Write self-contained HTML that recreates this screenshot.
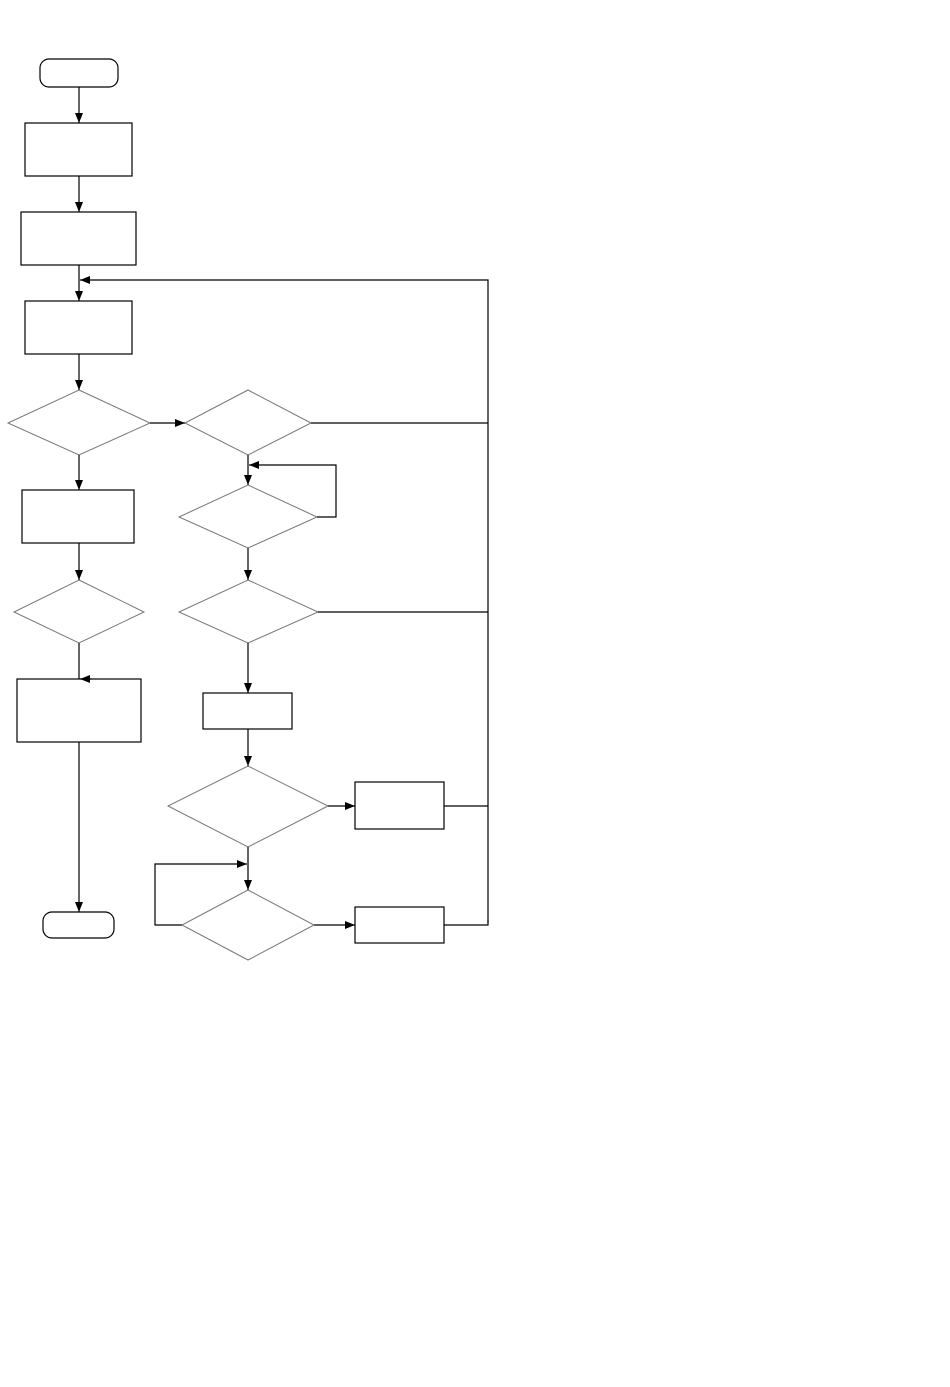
<!DOCTYPE html>
<html><head><meta charset="utf-8"><style>html,body{margin:0;padding:0;background:#fff;}svg{display:block}</style></head>
<body>
<svg width="950" height="1387" viewBox="0 0 950 1387" xmlns="http://www.w3.org/2000/svg">
<defs><marker id="a" markerWidth="10" markerHeight="8" refX="10" refY="4" orient="auto" markerUnits="userSpaceOnUse"><path d="M0,0L10,4L0,8z" fill="#000"/></marker></defs>
<g fill="none" stroke="#000" stroke-width="1.2">
<rect x="40" y="59" width="78" height="28" rx="9"/>
<rect x="25" y="123" width="107" height="53"/>
<rect x="21" y="212" width="115" height="53"/>
<rect x="25" y="301" width="107" height="53"/>
<rect x="22" y="490" width="112" height="53"/>
<rect x="17" y="679" width="124" height="63"/>
<rect x="43" y="912" width="71" height="26" rx="9"/>
<rect x="203" y="693" width="89" height="36"/>
<rect x="355" y="782" width="89" height="47"/>
<rect x="355" y="907" width="89" height="36"/>
</g>
<g fill="none" stroke="#777" stroke-width="1">
<polygon points="79,390 150,423 79,455 8,423"/>
<polygon points="248,390 311,423 248,455 185,423"/>
<polygon points="79,580 144,612 79,643 14,612"/>
<polygon points="248,485 317,517 248,548 179,517"/>
<polygon points="248,580 318,612 248,643 179,612"/>
<polygon points="248,766 328,806 248,847 168,806"/>
<polygon points="248,890 314,925 248,960 182,925"/>
</g>
<g fill="none" stroke="#000" stroke-width="1.2">
<line x1="79" y1="87" x2="79" y2="123" marker-end="url(#a)"/>
<line x1="79" y1="176" x2="79" y2="212" marker-end="url(#a)"/>
<line x1="79" y1="265" x2="79" y2="301" marker-end="url(#a)"/>
<polyline points="488,923 488,280 80,280" marker-end="url(#a)"/>
<line x1="79" y1="354" x2="79" y2="390" marker-end="url(#a)"/>
<line x1="150" y1="423" x2="185" y2="423" marker-end="url(#a)"/>
<line x1="311" y1="423" x2="488" y2="423"/>
<line x1="79" y1="455" x2="79" y2="490" marker-end="url(#a)"/>
<line x1="79" y1="543" x2="79" y2="580" marker-end="url(#a)"/>
<line x1="79" y1="643" x2="79" y2="679"/>
<line x1="92" y1="679" x2="80" y2="679" marker-end="url(#a)"/>
<line x1="79" y1="742" x2="79" y2="912" marker-end="url(#a)"/>
<line x1="248" y1="455" x2="248" y2="485" marker-end="url(#a)"/>
<polyline points="317,517 336,517 336,465 249,465" marker-end="url(#a)"/>
<line x1="248" y1="548" x2="248" y2="580" marker-end="url(#a)"/>
<line x1="318" y1="612" x2="488" y2="612"/>
<line x1="248" y1="643" x2="248" y2="693" marker-end="url(#a)"/>
<line x1="248" y1="729" x2="248" y2="766" marker-end="url(#a)"/>
<line x1="328" y1="806" x2="355" y2="806" marker-end="url(#a)"/>
<line x1="444" y1="806" x2="488" y2="806"/>
<line x1="248" y1="847" x2="248" y2="890" marker-end="url(#a)"/>
<polyline points="182,925 155,925 155,864 247,864" marker-end="url(#a)"/>
<line x1="314" y1="925" x2="355" y2="925" marker-end="url(#a)"/>
<polyline points="444,925 488,925 488,920"/>
</g>
</svg>
</body></html>
